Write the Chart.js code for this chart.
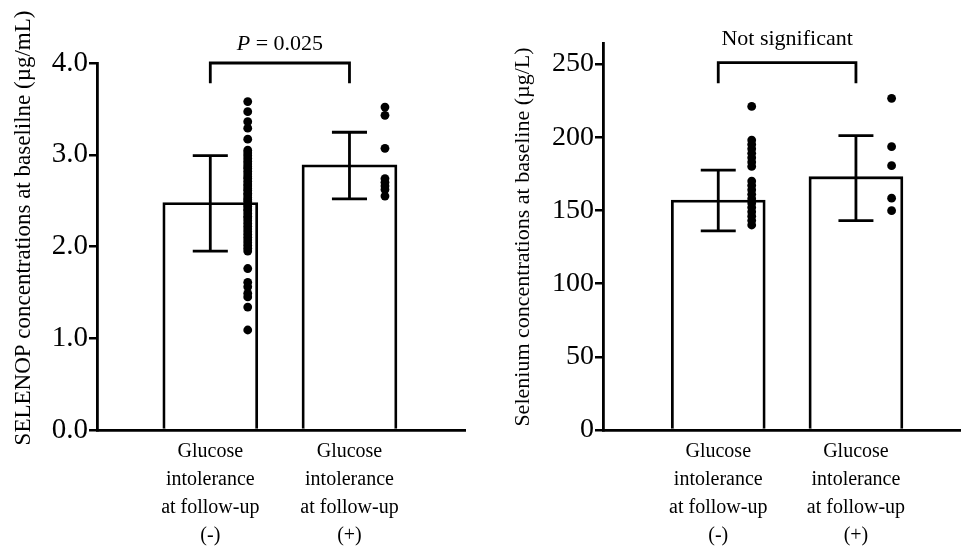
<!DOCTYPE html>
<html>
<head>
<meta charset="utf-8">
<script src="https://cdn.jsdelivr.net/npm/chart.js@4.4.1/dist/chart.umd.min.js"></script>
<style>
  body { margin: 0; background: #fff; overflow: hidden; }
  #wrap { position: relative; width: 961px; height: 546px; }
  canvas { position: absolute; top: 0; }
</style>
</head>
<body>
<div id="wrap">
  <canvas id="selenop" width="480" height="546" style="left:0"></canvas>
  <canvas id="selenium" width="481" height="546" style="left:480px"></canvas>
</div>
<script>
// categories
const groups = ['(-)', '(+)'];
const labelLines = ['Glucose', 'intolerance', 'at follow-up'];

// SELENOP (µg/mL): bar = mean, whiskers = low/high
const selenopMean = [2.48, 2.89];
const selenopLow = [1.95, 2.52];
const selenopHigh = [2.99, 3.245];
const selenopNeg = [3.58, 3.47, 3.36, 3.29, 3.17, 3.05, 3.02, 2.99, 2.96, 2.93, 2.90, 2.87, 2.85,
  2.82, 2.79, 2.76, 2.74, 2.71, 2.68, 2.66, 2.63, 2.61, 2.58, 2.56, 2.53, 2.51, 2.49, 2.46, 2.44,
  2.41, 2.39, 2.36, 2.33, 2.31, 2.28, 2.25, 2.22, 2.19, 2.16, 2.13, 2.10, 2.07, 2.04, 2.01, 1.98,
  1.95, 1.76, 1.61, 1.56, 1.49, 1.45, 1.34, 1.09];
const selenopPos = [3.52, 3.43, 3.07, 2.74, 2.70, 2.66, 2.62, 2.55];
const selenopBracket = [3.78, 4.0];
const selenopNote = [['P', true], [' = 0.025', false]];
const selenopNoteY = 4.14;

// Selenium (µg/L)
const seleniumMean = [157, 173];
const seleniumLow = [136, 143];
const seleniumHigh = [177.5, 201];
const seleniumNeg = [221, 198, 195, 192, 189, 186, 183, 180, 170, 167, 164, 161, 158, 155, 152,
  149, 146, 143, 140];
const seleniumPos = [226.5, 193.5, 180.5, 158.3, 149.8];
const seleniumBracket = [236.8, 250.9];
const seleniumNote = [['Not significant', false]];
const seleniumNoteY = 263;

const SERIF = "'Liberation Serif', 'Times New Roman', serif";
const LW = 2.8;

const extraText = {
  id: 'extraText',
  afterDraw(chart, args, opts) {
    const { ctx, scales: { x, y } } = chart;
    ctx.save();
    ctx.fillStyle = '#000';
    ctx.textAlign = 'left';
    ctx.textBaseline = 'alphabetic';
    const fontOf = p => (p[1] ? 'italic ' : '') + '22px ' + SERIF;
    let total = 0;
    opts.note.forEach(p => { ctx.font = fontOf(p); total += ctx.measureText(p[0]).width; });
    let cx = (x.getPixelForValue(1) + x.getPixelForValue(2)) / 2 - total / 2;
    const base = y.getPixelForValue(opts.noteY);
    opts.note.forEach(p => {
      ctx.font = fontOf(p);
      ctx.fillText(p[0], cx, base);
      cx += ctx.measureText(p[0]).width;
    });
    // y axis title
    ctx.translate(opts.titleX, opts.titleY);
    ctx.rotate(-Math.PI / 2);
    ctx.textAlign = 'center';
    ctx.textBaseline = 'middle';
    ctx.font = opts.titleSize + 'px ' + SERIF;
    ctx.fillText(opts.title, 0, 0);
    ctx.restore();
  }
};

function errorPoints(lows, highs, cap) {
  const pts = [];
  lows.forEach((lo, i) => {
    const x = i + 1, hi = highs[i];
    pts.push({ x, y: lo }, { x, y: hi }, { x, y: null },
      { x: x - cap, y: hi }, { x: x + cap, y: hi }, { x, y: null },
      { x: x - cap, y: lo }, { x: x + cap, y: lo }, { x, y: null });
  });
  return pts;
}

const lineStyle = {
  type: 'line', borderColor: '#000', borderWidth: LW, pointRadius: 0,
  fill: false, tension: 0, clip: false, order: 0, borderCapStyle: 'butt'
};
const dotStyle = {
  type: 'scatter', backgroundColor: '#000', borderWidth: 0, pointRadius: 4.4,
  clip: false, order: 1
};

function makeChart(id, c) {
  return new Chart(document.getElementById(id), {
    type: 'bar',
    data: {
      datasets: [
        { ...lineStyle, data: errorPoints(c.low, c.high, c.cap) },
        { ...lineStyle, data: [{ x: 1, y: c.bracket[0] }, { x: 1, y: c.bracket[1] },
                               { x: 2, y: c.bracket[1] }, { x: 2, y: c.bracket[0] }] },
        { ...dotStyle, data: c.neg.map(v => ({ x: 1 + c.shift[0], y: v })) },
        { ...dotStyle, data: c.pos.map(v => ({ x: 2 + c.shift[1], y: v })) },
        {
          type: 'bar', order: 5,
          data: c.mean.map((m, i) => ({ x: i + 1, y: m })),
          backgroundColor: '#fff', borderColor: '#000', borderWidth: LW,
          barThickness: c.barWidth
        }
      ]
    },
    options: {
      responsive: false,
      animation: false,
      events: [],
      spanGaps: false,
      layout: { autoPadding: false, padding: { top: c.padTop, right: c.padRight, left: 0, bottom: 0 } },
      plugins: {
        legend: { display: false },
        tooltip: { enabled: false },
        extraText: {
          note: c.note, noteY: c.noteY, title: c.title,
          titleX: c.titleX, titleY: c.titleY, titleSize: c.titleSize
        }
      },
      scales: {
        x: {
          type: 'linear', min: c.xMin, max: c.xMax, offset: false,
          grid: { display: false, drawTicks: false, offset: false },
          border: { color: '#000', width: LW },
          afterBuildTicks: s => { s.ticks = [{ value: 1 }, { value: 2 }]; },
          afterFit: s => { s.height = 116; },
          ticks: {
            autoSkip: false, maxRotation: 0, minRotation: 0, padding: 8, color: '#000',
            font: { family: SERIF, size: 20, lineHeight: 1.39 },
            callback: (v, i) => [...labelLines, groups[i]]
          }
        },
        y: {
          type: 'linear', min: 0, max: c.yMax,
          grid: { drawOnChartArea: false, color: '#000', lineWidth: 2.5, tickLength: 8 },
          border: { color: '#000', width: LW },
          afterFit: s => { s.width = c.axisLeft; },
          ticks: {
            stepSize: c.yStep, includeBounds: false, padding: 1, color: '#000',
            font: { family: SERIF, size: c.tickSize },
            callback: c.fmt
          }
        }
      }
    },
    plugins: [extraText]
  });
}

makeChart('selenop', {
  mean: selenopMean, low: selenopLow, high: selenopHigh, neg: selenopNeg, pos: selenopPos,
  bracket: selenopBracket, note: selenopNote, noteY: selenopNoteY,
  title: 'SELENOP concentrations at baselilne (\u00b5g/mL)', titleX: 24, titleY: 228, titleSize: 23,
  cap: 0.126, shift: [0.269, 0.255], barWidth: 95,
  xMin: 0.186, xMax: 2.83, yMax: 4, yStep: 1, tickSize: 29, fmt: v => v.toFixed(1),
  padTop: 63, padRight: 15, axisLeft: 97
});

makeChart('selenium', {
  mean: seleniumMean, low: seleniumLow, high: seleniumHigh, neg: seleniumNeg, pos: seleniumPos,
  bracket: seleniumBracket, note: seleniumNote, noteY: seleniumNoteY,
  title: 'Selenium concentrations at baseline (\u00b5g/L)', titleX: 43, titleY: 237, titleSize: 22,
  cap: 0.127, shift: [0.243, 0.259], barWidth: 94,
  xMin: 0.163, xMax: 2.763, yMax: 264.3, yStep: 50, tickSize: 28, fmt: v => String(v),
  padTop: 43, padRight: 0, axisLeft: 123
});
</script>
</body>
</html>
